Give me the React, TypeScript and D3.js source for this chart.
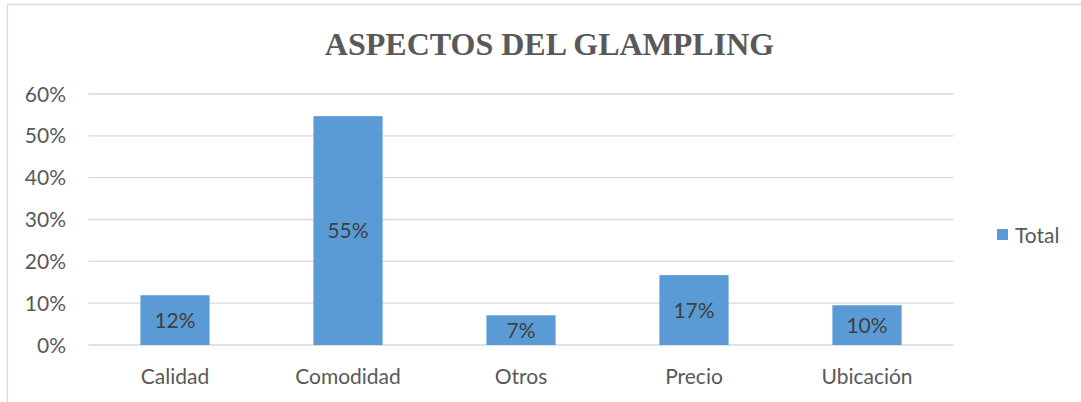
import React from "react";
import * as d3 from "d3";

// chart data
const categories = ["Calidad", "Comodidad", "Otros", "Precio", "Ubicación"];
const totals = [0.119, 0.547, 0.071, 0.167, 0.095];
const yTicks = [0, 0.1, 0.2, 0.3, 0.4, 0.5, 0.6];
const seriesName = "Total";
const chartTitle = "ASPECTOS DEL GLAMPLING";

const W = 1081;
const H = 402;
const plot = { left: 88.5, right: 953.5, top: 94, bottom: 345 };

const BAR = "#5B9BD5";
const GRID = "#D9D9D9";
const TEXT = "#595959";
const SANS = "Lato, 'Open Sans', sans-serif";
const FS = 21;

export default function App() {
  const x = d3
    .scaleBand<string>()
    .domain(categories)
    .range([plot.left, plot.right])
    .paddingInner(0.6)
    .paddingOuter(0.3);

  const y = d3.scaleLinear().domain([0, 0.6]).range([plot.bottom, plot.top]);
  const pct = d3.format(".0%");

  return (
    <svg
      width={W}
      height={H}
      style={{ position: "fixed", left: 0, top: 0, background: "#fff" }}
    >
      {/* chart frame, runs off the right and bottom edges */}
      <path d={`M7.5,${H + 2}V4.5H${W + 2}`} fill="none" stroke={GRID} strokeWidth={1.3} />

      <text
        x={549.5}
        y={55}
        textAnchor="middle"
        fontFamily="'Liberation Serif', 'Times New Roman', serif"
        fontWeight="bold"
        fontSize={32}
        fill={TEXT}
      >
        {chartTitle}
      </text>

      {/* gridlines + y tick labels */}
      {yTicks.map((t) => (
        <g key={t}>
          <line
            x1={plot.left}
            x2={plot.right}
            y1={y(t)}
            y2={y(t)}
            stroke={GRID}
            strokeWidth={1.3}
          />
          <text
            x={66}
            y={y(t)}
            dy="0.36em"
            textAnchor="end"
            fontFamily={SANS}
            fontSize={FS}
            fill={TEXT}
          >
            {pct(t)}
          </text>
        </g>
      ))}

      {/* bars */}
      {categories.map((c, i) => (
        <g key={c}>
          <rect
            x={x(c)}
            y={y(totals[i])}
            width={x.bandwidth()}
            height={y(0) - y(totals[i])}
            fill={BAR}
          />
          <text
            x={x(c)! + x.bandwidth() / 2}
            y={(y(totals[i]) + y(0)) / 2}
            dy="0.36em"
            textAnchor="middle"
            fontFamily={SANS}
            fontSize={FS}
            fill="#404040"
          >
            {pct(Math.round(totals[i] * 100) / 100)}
          </text>
          <text
            x={x(c)! + x.bandwidth() / 2}
            y={376}
            dy="0.36em"
            textAnchor="middle"
            fontFamily={SANS}
            fontSize={FS}
            fill={TEXT}
          >
            {c}
          </text>
        </g>
      ))}

      {/* legend */}
      <rect x={997} y={229} width={11} height={11} fill={BAR} />
      <text x={1015} y={235} dy="0.36em" fontFamily={SANS} fontSize={FS} fill={TEXT}>
        {seriesName}
      </text>
    </svg>
  );
}
